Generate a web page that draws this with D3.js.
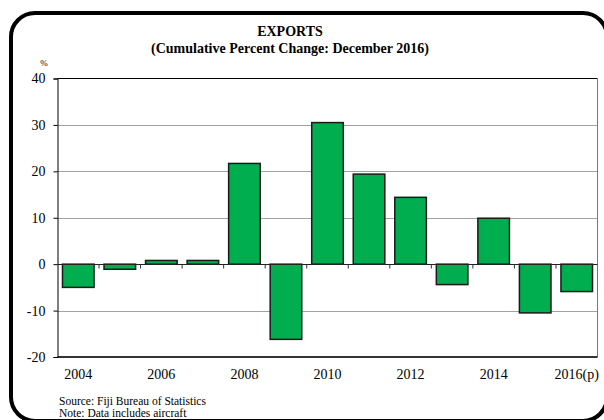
<!DOCTYPE html>
<html><head><meta charset="utf-8">
<script src="https://cdn.jsdelivr.net/npm/d3@7"></script>
<style>body{margin:0;background:#fff}svg{display:block}text{font-family:"Liberation Serif","Times New Roman",serif}</style>
</head><body><svg id="c" width="604" height="420"></svg>
<script>
const years = ["2004","2005","2006","2007","2008","2009","2010","2011","2012","2013","2014","2015","2016"];
const values = [-5.0,-1.1,0.8,0.8,21.7,-16.2,30.5,19.4,14.4,-4.4,9.9,-10.5,-5.9];
const xLabels = ["2004","","2006","","2008","","2010","","2012","","2014","","2016(p)"];
const yTicks = [-20,-10,0,10,20,30,40];

const svg = d3.select("#c");
svg.append("rect").attr("x",11).attr("y",13).attr("width",596).attr("height",408)
  .attr("rx",24).attr("fill","none").attr("stroke","#000").attr("stroke-width",4);

const L=57.5,R=597.5,T=78.5,B=357;
const x = d3.scaleBand().domain(years).range([L,R]).paddingInner(0.24).paddingOuter(0.12);
const y = d3.scaleLinear().domain([-20,40]).range([B,T]);

// gridlines
svg.append("g").selectAll("line").data([30,20,10,-10]).join("line")
  .attr("x1",L).attr("x2",R).attr("y1",d=>Math.round(y(d))+0.5).attr("y2",d=>Math.round(y(d))+0.5)
  .attr("stroke","#444").attr("stroke-width",1).attr("stroke-dasharray","1,1");

// bars
svg.append("g").selectAll("rect").data(values).join("rect")
  .attr("x",(d,i)=>x(years[i])).attr("width",x.bandwidth())
  .attr("y",d=>y(Math.max(0,d))).attr("height",d=>Math.abs(y(d)-y(0)))
  .attr("fill","#00AE50").attr("stroke","#1a1a1a").attr("stroke-width",1.5);

// plot frame
svg.append("line").attr("x1",L).attr("x2",R).attr("y1",T).attr("y2",T).attr("stroke","#000");
svg.append("line").attr("x1",R).attr("x2",R).attr("y1",T).attr("y2",B).attr("stroke","#777");
svg.append("line").attr("x1",L).attr("x2",R).attr("y1",B).attr("y2",B).attr("stroke","#333").attr("stroke-width",2);

// zero line with ticks between categories
const zy = Math.round(y(0))+0.5;
svg.append("line").attr("x1",L).attr("x2",R).attr("y1",zy).attr("y2",zy).attr("stroke","#222").attr("stroke-width",1);
svg.append("g").selectAll("line").data(d3.range(1,years.length)).join("line")
  .attr("x1",i=>L+i*(R-L)/years.length).attr("x2",i=>L+i*(R-L)/years.length)
  .attr("y1",zy).attr("y2",zy+4).attr("stroke","#333");

// y axis
const ya = d3.axisLeft(y).tickValues(yTicks).tickSize(4).tickPadding(8).tickFormat(d=>String(d));
const gy = svg.append("g").attr("transform",`translate(${L},0)`).call(ya);
gy.attr("font-family",null).attr("font-size",null);
gy.select(".domain").attr("stroke","#000");
gy.selectAll("text").attr("font-size",14).attr("fill","#000");
gy.selectAll(".tick line").attr("stroke","#000");

// x labels
svg.append("g").selectAll("text").data(years).join("text")
  .attr("x",(d,i)=>x(d)+x.bandwidth()/2).attr("y",379)
  .attr("text-anchor","middle").attr("font-size",14).text((d,i)=>xLabels[i]);

// titles
svg.append("text").attr("x",290).attr("y",36).attr("text-anchor","middle").attr("font-size",14).attr("font-weight","bold").text("EXPORTS");
svg.append("text").attr("x",290).attr("y",53).attr("text-anchor","middle").attr("font-size",14).attr("font-weight","bold").text("(Cumulative Percent Change: December 2016)");
svg.append("text").attr("x",44).attr("y",66).attr("text-anchor","middle").attr("font-size",9).text("%");
svg.append("text").attr("x",59).attr("y",405).attr("font-size",11.5).text("Source:  Fiji Bureau of Statistics");
svg.append("text").attr("x",59).attr("y",417).attr("font-size",11.5).text("Note: Data includes aircraft");
</script></body></html>
